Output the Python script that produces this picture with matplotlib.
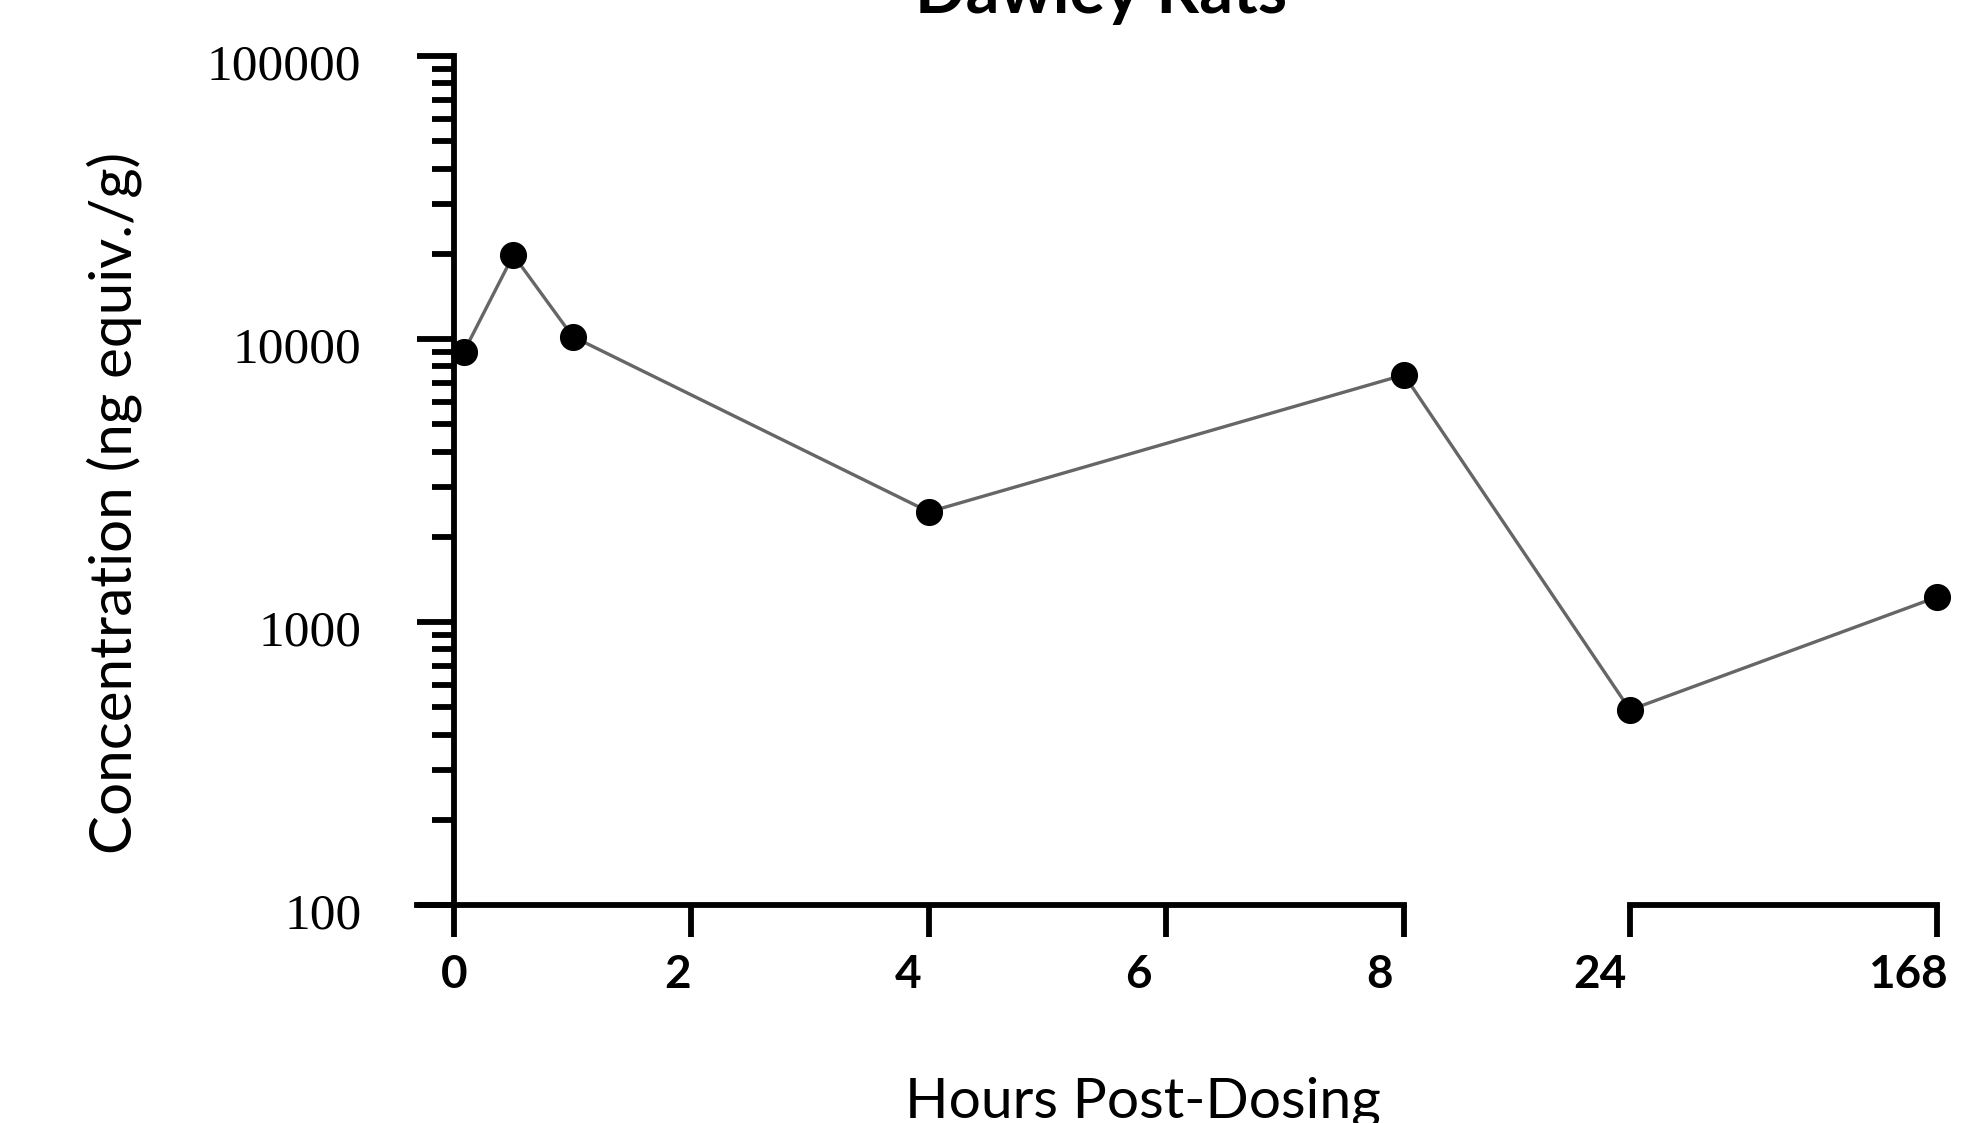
import numpy as np
import matplotlib
matplotlib.use("Agg")
import matplotlib.pyplot as plt
from matplotlib.patches import ConnectionPatch
from matplotlib.transforms import ScaledTranslation
from matplotlib.ticker import LogLocator, NullFormatter

# data (hours post-dosing vs ng equiv./g)
hours_early = [0.083, 0.5, 1, 4, 8]
conc_early = [9000, 19800, 10200, 2450, 7470]
hours_late = [24, 168]
conc_late = [489, 1225]

early_ticks = [0, 2, 4, 6, 8]
late_ticks = [24, 168]
y_ticks = [100, 1000, 10000, 100000]

LINE = "#666666"
LW = 2.4
AXW = 4.2

fig = plt.figure(figsize=(19.8, 11.23), dpi=100)
W, H = 1980, 1123
ax1 = fig.add_axes([417 / W, 1 - 905 / H, (1404 - 417) / W, (905 - 56) / H])
ax2 = fig.add_axes([1630 / W, 1 - 905 / H, (1937 - 1630) / W, (905 - 56) / H], sharey=ax1)
ax1.set_zorder(2)
ax1.patch.set_alpha(0)

ax1.set_yscale("log")
ax1.set_ylim(100, 100000)
ax1.set_xlim(-0.311, 8)
ax2.set_xlim(24, 168)

mk = dict(color=LINE, lw=LW, marker="o", ms=18.5, mfc="black", mec="black",
          clip_on=False, zorder=3)
ax1.plot(hours_early, conc_early, **mk)
ax2.plot(hours_late, conc_late, **mk)

# segment across the axis break
con = ConnectionPatch(xyA=(hours_early[-1], conc_early[-1]), coordsA=ax1.transData,
                      xyB=(hours_late[0], conc_late[0]), coordsB=ax2.transData,
                      color=LINE, lw=LW, zorder=1)
ax2.add_artist(con)
con.set_clip_on(False)

for ax in (ax1, ax2):
    ax.spines["top"].set_visible(False)
    ax.spines["right"].set_visible(False)
    for s in ax.spines.values():
        s.set_linewidth(AXW)
ax1.spines["left"].set_position(("data", 0))
ax2.spines["left"].set_visible(False)
ax2.tick_params(axis="y", which="both", left=False, labelleft=False)

# x ticks, with small upward caps at the break
ax1.set_xticks(early_ticks, labels=[str(t) for t in early_ticks])
ax1.set_xticks([8], minor=True)
ax2.set_xticks(late_ticks, labels=[str(t) for t in late_ticks])
ax2.set_xticks([24], minor=True)
for ax in (ax1, ax2):
    ax.tick_params(axis="x", which="major", direction="out", length=23, width=AXW,
                   pad=12, labelsize=33)
    ax.tick_params(axis="x", which="minor", direction="in", length=9.4, width=AXW)

ax1.set_yticks(y_ticks, labels=[str(v) for v in y_ticks])
ax1.yaxis.set_minor_locator(LogLocator(base=10, subs=np.arange(2, 10)))
ax1.yaxis.set_minor_formatter(NullFormatter())
ax1.tick_params(axis="y", which="major", length=26.6, width=AXW, pad=40, labelsize=37)
ax1.tick_params(axis="y", which="minor", length=15.8, width=AXW)

# label fonts and the slight shifts seen in the original
x_shift = [0, -14, -21, -28, -24, -30, -29]
xlabels = ax1.get_xticklabels() + ax2.get_xticklabels()
for lbl, dx in zip(xlabels, x_shift):
    lbl.set_fontfamily("Lato")
    lbl.set_fontweight("bold")
    lbl.set_transform(lbl.get_transform() + ScaledTranslation(dx / 100, 0, fig.dpi_scale_trans))
for lbl in ax1.get_yticklabels():
    lbl.set_fontfamily("Liberation Serif")
    lbl.set_transform(lbl.get_transform() + ScaledTranslation(0, -6 / 100, fig.dpi_scale_trans))

fig.text(114 / W, 1 - 503 / H, "Concentration (ng equiv./g)", rotation=90,
         ha="center", va="center", family="Lato", fontsize=42)
fig.text(1143 / W, 1 - 1118 / H, "Hours Post-Dosing", ha="center", va="baseline",
         family="Lato", fontsize=41)
fig.text(1101 / W, 1 - 13 / H, "Dawley Rats", ha="center", va="baseline",
         family="Lato", fontweight="bold", fontsize=48)

fig.savefig("out.png", dpi=100)
